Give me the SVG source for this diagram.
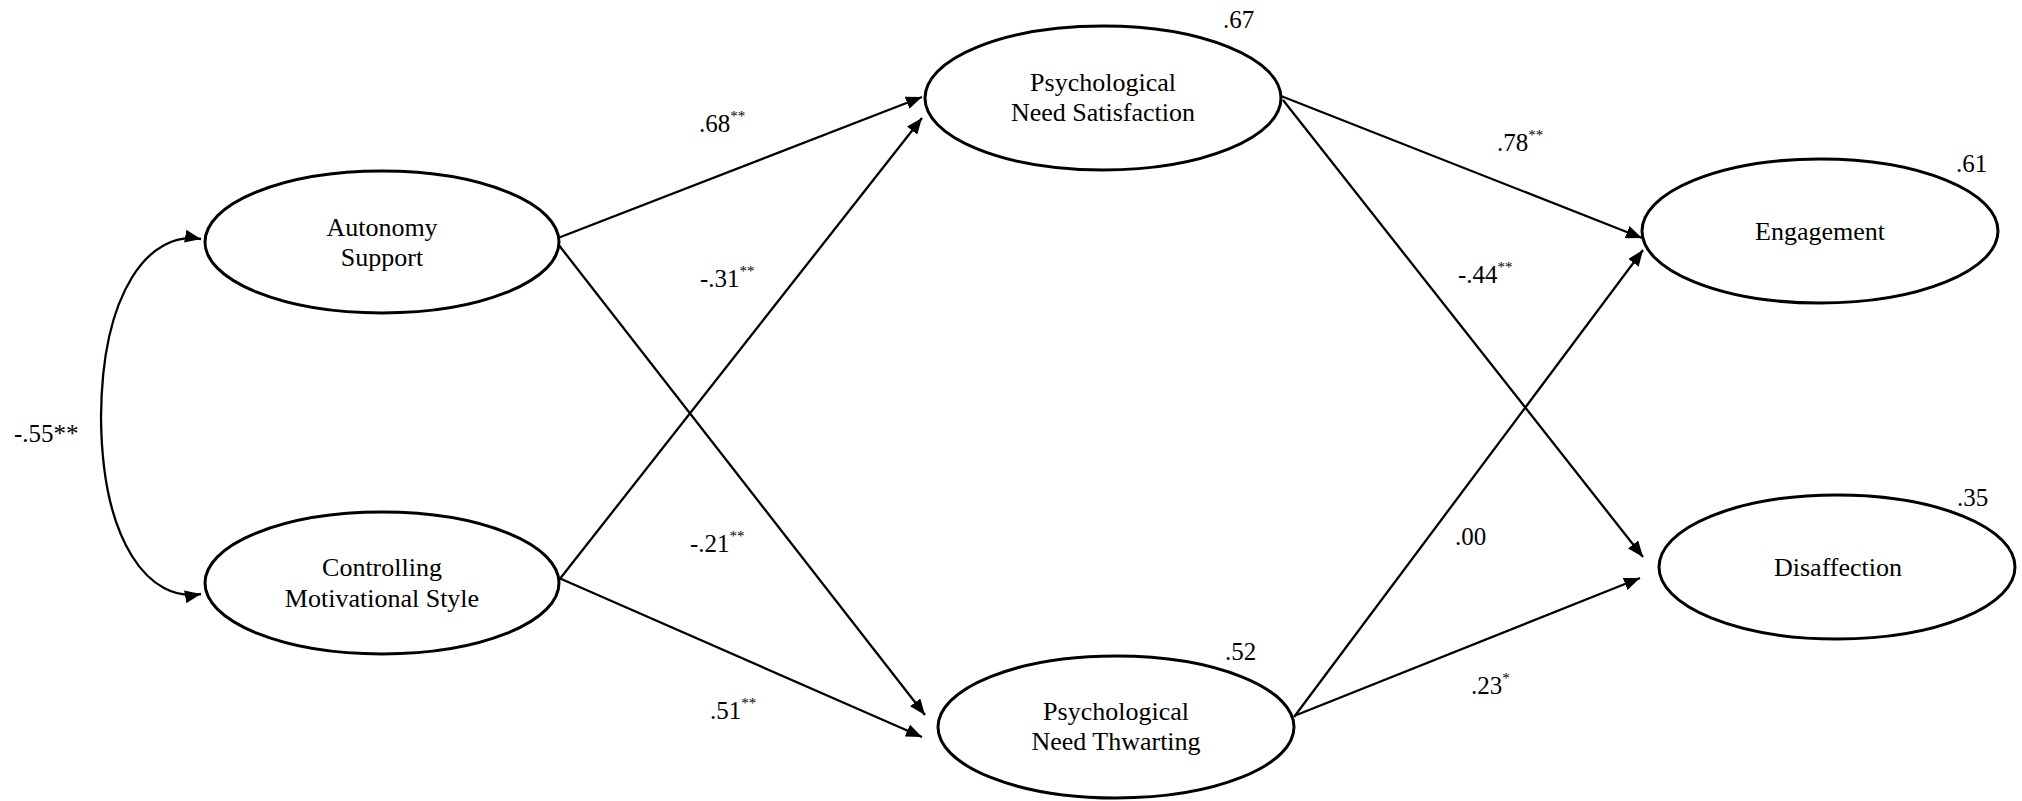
<svg xmlns="http://www.w3.org/2000/svg" width="2022" height="801" viewBox="0 0 2022 801">
<style>
.node ellipse{fill:#fff;stroke:#000;stroke-width:3}
.node text{font-family:"Liberation Serif","Times New Roman",serif;font-size:26px;text-anchor:middle;fill:#000}
.lbl{font-family:"Liberation Serif","Times New Roman",serif;font-size:25px;fill:#000}
.sup{font-size:15px}
.edge{fill:none;stroke:#000;stroke-width:2.3;marker-end:url(#ah)}
</style>
<defs>
<marker id="ah" markerUnits="userSpaceOnUse" markerWidth="16" markerHeight="13" refX="16" refY="6.5" orient="auto-start-reverse" viewBox="0 0 16 13">
<path d="M0,0 L16,6.5 L0,13 z" fill="#000"/>
</marker>
</defs>
<rect width="2022" height="801" fill="#fff"/>
<g id="connectors">
<path class="edge" d="M558,238 L922,97"/>
<path class="edge" d="M559,580 L922,118"/>
<path class="edge" d="M558,244 L925,715"/>
<path class="edge" d="M559,578 L922,737"/>
<path class="edge" d="M1281,96 L1642,238"/>
<path class="edge" d="M1283,100 L1643,557"/>
<path class="edge" d="M1294,717 L1643,250"/>
<path class="edge" d="M1294,716 L1640,578"/>
<path class="edge" style="marker-start:url(#ah)" d="M201,239 C150,230 102,290 101,417 C102,544 150,603 201,594"/>
</g>
<g id="autonomy" class="node"><ellipse cx="382" cy="242" rx="177" ry="71"/><text x="382" y="236">Autonomy</text><text x="382" y="266">Support</text></g>
<g id="controlling" class="node"><ellipse cx="382" cy="583" rx="177" ry="71"/><text x="382" y="576">Controlling</text><text x="382" y="607">Motivational Style</text></g>
<g id="pns" class="node"><ellipse cx="1103" cy="98" rx="178" ry="72"/><text x="1103" y="91">Psychological</text><text x="1103" y="121">Need Satisfaction</text></g>
<g id="pnt" class="node"><ellipse cx="1116" cy="727" rx="178" ry="71"/><text x="1116" y="720">Psychological</text><text x="1116" y="750">Need Thwarting</text></g>
<g id="engagement" class="node"><ellipse cx="1820" cy="231" rx="178" ry="72"/><text x="1820" y="240">Engagement</text></g>
<g id="disaffection" class="node"><ellipse cx="1837" cy="567" rx="178" ry="72"/><text x="1838" y="576">Disaffection</text></g>
<g id="labels">
<text class="lbl" x="699" y="132">.68<tspan class="sup" dy="-11">**</tspan></text>
<text class="lbl" x="700" y="287">-.31<tspan class="sup" dy="-11">**</tspan></text>
<text class="lbl" x="690" y="552">-.21<tspan class="sup" dy="-11">**</tspan></text>
<text class="lbl" x="710" y="719">.51<tspan class="sup" dy="-11">**</tspan></text>
<text class="lbl" x="1497" y="151">.78<tspan class="sup" dy="-11">**</tspan></text>
<text class="lbl" x="1458" y="283">-.44<tspan class="sup" dy="-11">**</tspan></text>
<text class="lbl" x="1455" y="545">.00</text>
<text class="lbl" x="1471" y="694">.23<tspan class="sup" dy="-11">*</tspan></text>
<text class="lbl" x="1223" y="28">.67</text>
<text class="lbl" x="1225" y="660">.52</text>
<text class="lbl" x="1956" y="172">.61</text>
<text class="lbl" x="1957" y="506">.35</text>
<text class="lbl" x="14" y="442">-.55**</text>
</g>
</svg>
